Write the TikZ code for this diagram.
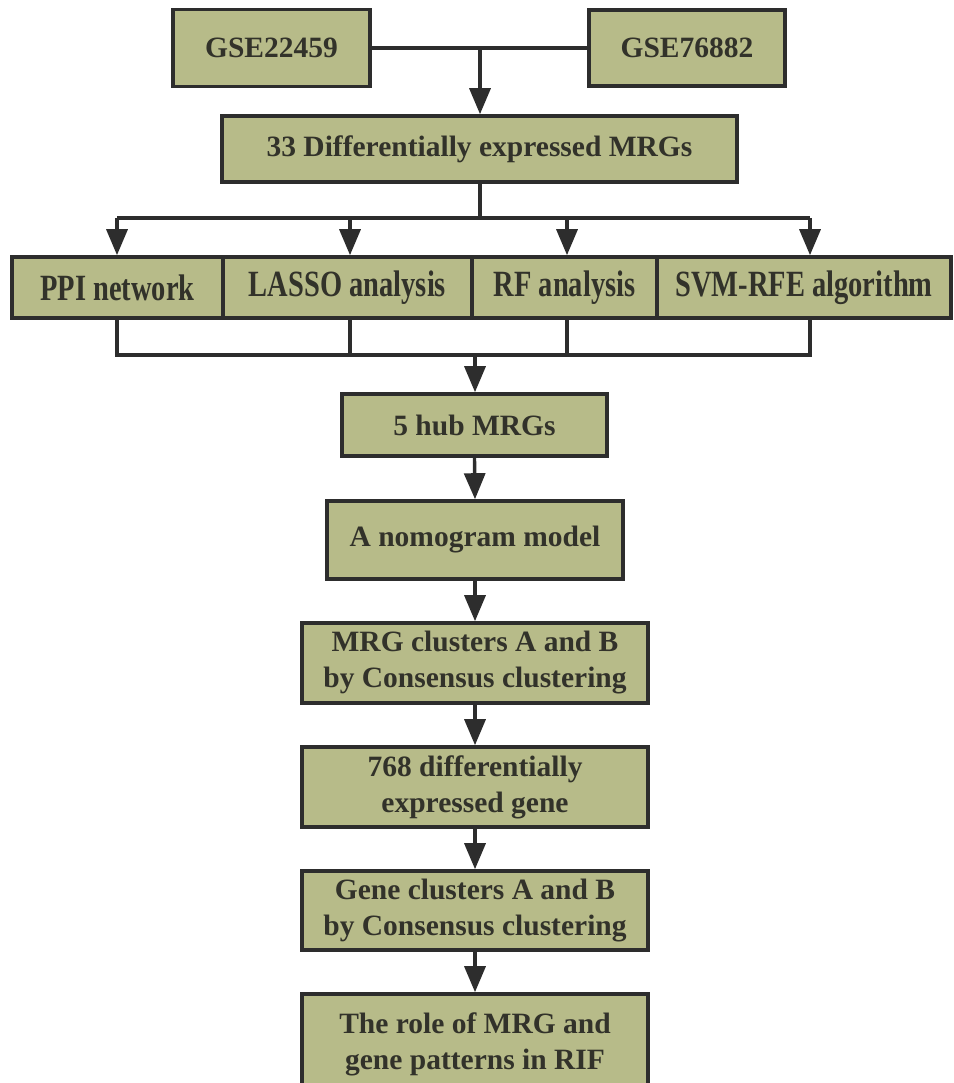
\documentclass[tikz,border=0pt]{standalone}
\usepackage{fontspec}
\setmainfont{Liberation Serif}
\usetikzlibrary{arrows.meta}
\definecolor{boxfill}{RGB}{183,187,137}
\definecolor{ink}{RGB}{50,50,42}
\definecolor{linec}{RGB}{45,45,45}
\tikzset{
  box/.style={draw=linec, line width=3.6pt, fill=boxfill, text=ink, rectangle,
    inner sep=0pt, align=center, font=\fontsize{29.5}{36}\selectfont\bfseries},
  conn/.style={draw=linec, line width=3.4pt},
  arr/.style={conn, -{Triangle[length=26pt,width=21pt]}},
}
\newcommand{\rowtext}[1]{\scalebox{0.77}[1]{\fontsize{37}{40}\selectfont\bfseries #1}}
\begin{document}
\begin{tikzpicture}[x=1pt,y=-1pt]
\useasboundingbox (0,0) rectangle (953,1083);
\clip (0,0) rectangle (953,1083);
% boxes
\node[box, minimum width=197pt, minimum height=77pt] (g1) at (271.5,48) {GSE22459};
\node[box, minimum width=196pt, minimum height=76pt] (g2) at (687,48) {GSE76882};
\node[box, minimum width=515pt, minimum height=66pt] (d33) at (479.5,149) {33 Differentially expressed MRGs};
\node[box, minimum width=211pt, minimum height=61pt] (ppi) at (117.5,287.5) {\rowtext{PPI network}};
\node[box, minimum width=249pt, minimum height=61pt] (lasso) at (347.5,287.5) {\rowtext{LASSO analysis}};
\node[box, minimum width=185pt, minimum height=61pt] (rf) at (564.5,287.5) {\rowtext{RF analysis}};
\node[box, minimum width=294pt, minimum height=61pt] (svm) at (804,287.5) {\rowtext{SVM-RFE algorithm}};
\node[box, minimum width=265pt, minimum height=62pt] (hub) at (474.5,425) {5 hub MRGs};
\node[box, minimum width=296pt, minimum height=78pt] (nomo) at (475,540) {A nomogram model};
\node[box, minimum width=346pt, minimum height=80pt] (mrg) at (475,663) {MRG clusters A and B\\by Consensus clustering};
\node[box, minimum width=346pt, minimum height=80pt] (deg) at (475,787) {768 differentially\\expressed gene};
\node[box, minimum width=346pt, minimum height=79pt] (gene) at (475,910.5) {Gene clusters A and B\\by Consensus clustering};
\node[box, minimum width=346pt, minimum height=100pt] (role) at (475,1044) {The role of MRG and\\gene patterns in RIF};
% junction coordinates
\coordinate (j1) at (480,48);
\coordinate (j2) at (480,218);
\coordinate (a1) at (117,218);
\coordinate (a2) at (350,218);
\coordinate (a3) at (567,218);
\coordinate (a4) at (810,218);
\coordinate (b1) at (117,355);
\coordinate (b2) at (350,355);
\coordinate (b3) at (567,355);
\coordinate (b4) at (810,355);
\coordinate (j3) at (475,355);
% connectors
\draw[conn] (g1.east) -- (g2.west);
\draw[arr] (j1) -- (j1 |- d33.north);
\draw[conn] (j1 |- d33.south) -- (j2);
\draw[conn] (a1) -- (a4);
\draw[arr] (a1) -- (a1 |- ppi.north);
\draw[arr] (a2) -- (a2 |- lasso.north);
\draw[arr] (a3) -- (a3 |- rf.north);
\draw[arr] (a4) -- (a4 |- svm.north);
\draw[conn] (b1 |- ppi.south) -- (b1) -- (b4) -- (b4 |- svm.south);
\draw[conn] (b2 |- lasso.south) -- (b2);
\draw[conn] (b3 |- rf.south) -- (b3);
\draw[arr] (j3) -- (j3 |- hub.north);
\draw[arr] (hub.south) -- (nomo.north);
\draw[arr] (nomo.south) -- (mrg.north);
\draw[arr] (mrg.south) -- (deg.north);
\draw[arr] (deg.south) -- (gene.north);
\draw[arr] (gene.south) -- (role.north);
\end{tikzpicture}
\end{document}
